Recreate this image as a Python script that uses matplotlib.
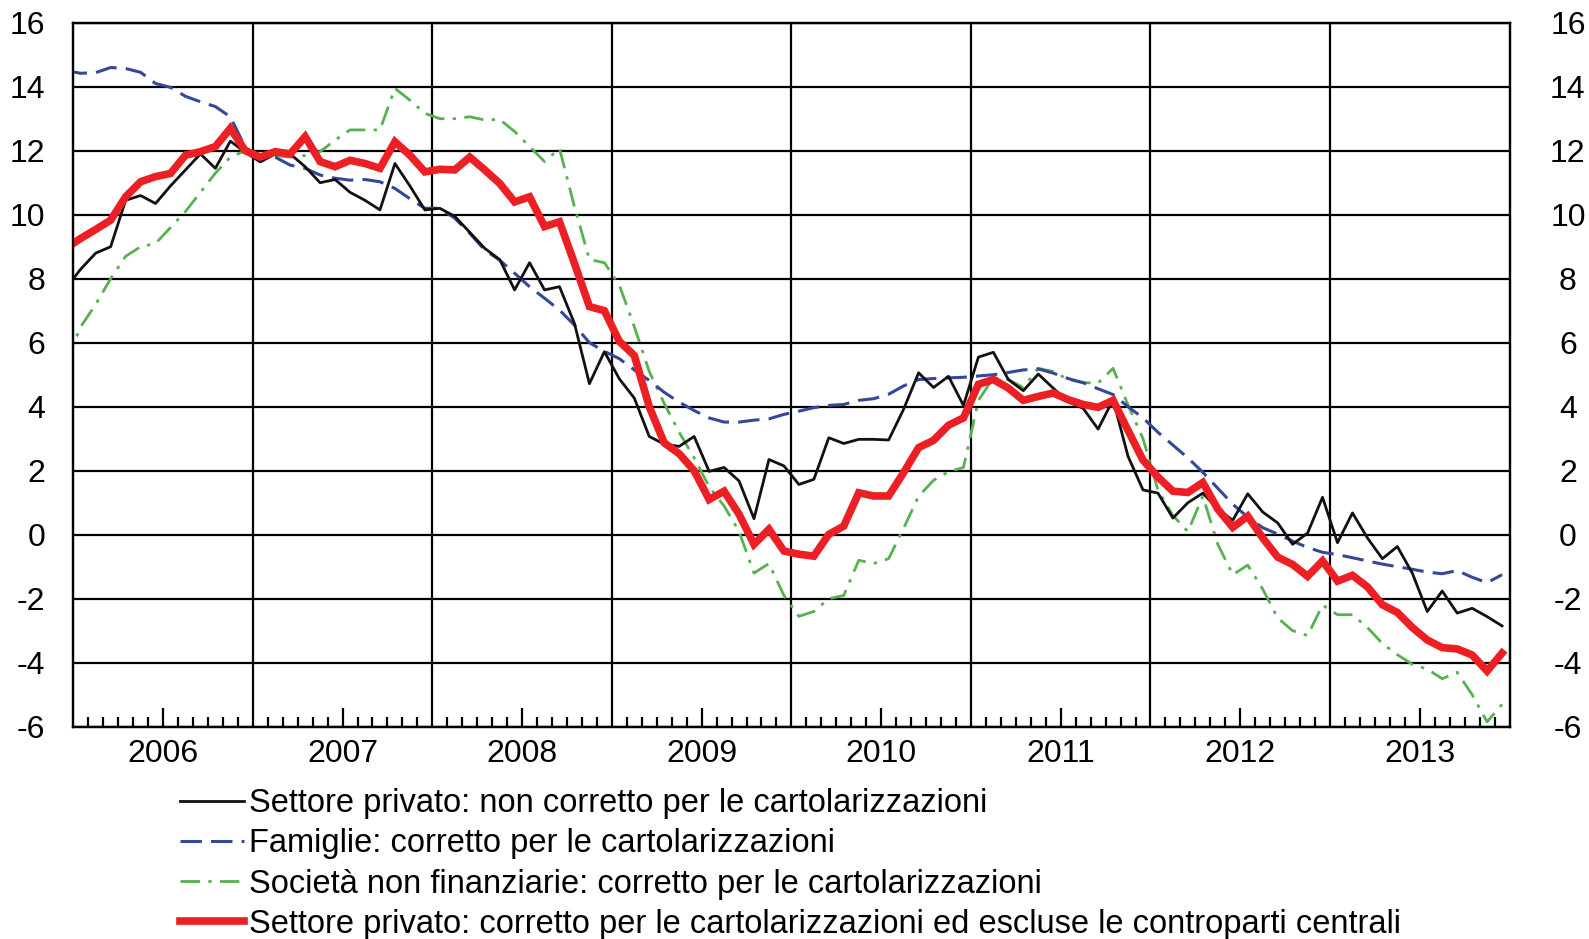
import numpy as np
import matplotlib.pyplot as plt

# dati mensili, dic 2005 - dic 2013 (variazioni % sui 12 mesi)
anni = ["2006", "2007", "2008", "2009", "2010", "2011", "2012", "2013"]

privato_non_corretto = [
    7.7,
    8.3, 8.8, 9.0, 10.45, 10.6, 10.35, 10.9, 11.4, 11.9, 11.45, 12.3, 11.95,
    11.65, 11.9, 11.9, 11.5, 11.0, 11.1, 10.7, 10.45, 10.15, 11.6, 10.9, 10.15,
    10.2, 9.95, 9.45, 8.95, 8.6, 7.65, 8.5, 7.65, 7.75, 6.6, 4.72, 5.72,
    4.87, 4.27, 3.07, 2.83, 2.76, 3.07, 1.98, 2.1, 1.68, 0.5, 2.35, 2.15,
    1.57, 1.73, 3.03, 2.85, 2.98, 2.98, 2.96, 3.92, 5.06, 4.6, 4.95, 4.04,
    5.55, 5.7, 4.85, 4.5, 5.02, 4.58, 4.15, 3.95, 3.3, 4.22, 2.45, 1.4,
    1.3, 0.52, 1.0, 1.3, 0.8, 0.45, 1.28, 0.71, 0.37, -0.3, 0.05, 1.17,
    -0.25, 0.68, -0.1, -0.75, -0.37, -1.2, -2.4, -1.76, -2.45, -2.3, -2.56, -2.85,
]

famiglie = [
    14.5,
    14.42, 14.44, 14.6, 14.57, 14.45, 14.1, 13.98, 13.7, 13.53, 13.38, 13.06, 12.1,
    11.8, 11.8, 11.55, 11.45, 11.24, 11.14, 11.08, 11.1, 11.03, 10.82, 10.5, 10.2,
    10.2, 9.89, 9.42, 8.9, 8.58, 8.17, 7.75, 7.39, 7.02, 6.55, 6.0, 5.73,
    5.5, 5.15, 4.82, 4.45, 4.14, 3.88, 3.65, 3.52, 3.52, 3.58, 3.62, 3.76,
    3.86, 3.97, 4.04, 4.07, 4.2, 4.25, 4.39, 4.65, 4.85, 4.88, 4.9, 4.92,
    4.96, 5.0, 5.07, 5.15, 5.18, 5.05, 4.88, 4.75, 4.56, 4.38, 4.0, 3.65,
    3.2, 2.8, 2.4, 1.95, 1.45, 0.95, 0.55, 0.22, 0.02, -0.2, -0.4, -0.55,
    -0.62, -0.72, -0.82, -0.92, -1.0, -1.08, -1.17, -1.22, -1.12, -1.33, -1.5, -1.25,
]

societa_non_finanziarie = [
    5.4,
    6.5, 7.2, 8.0, 8.7, 9.0, 9.1, 9.6, 10.1, 10.7, 11.3, 11.8, 12.0,
    11.86, 11.85, 11.8, 11.85, 11.97, 12.33, 12.65, 12.65, 12.65, 13.95, 13.58, 13.17,
    13.0, 13.0, 13.06, 12.96, 12.98, 12.6, 12.13, 11.66, 12.07, 10.25, 8.6, 8.5,
    7.8, 6.5, 5.1, 4.1, 3.2, 2.4, 1.5, 0.9, 0.1, -1.2, -0.9, -1.9,
    -2.55, -2.4, -2.0, -1.9, -0.8, -0.9, -0.75, 0.2, 1.2, 1.7, 1.97, 2.1,
    4.2, 4.9, 4.85, 4.6, 5.2, 5.1, 4.85, 4.75, 4.74, 5.2, 4.05, 3.0,
    1.4, 0.6, 0.1, 1.2, -0.3, -1.25, -0.95, -1.7, -2.6, -3.0, -3.15, -2.2,
    -2.5, -2.5, -2.9, -3.4, -3.75, -4.05, -4.2, -4.5, -4.3, -5.0, -5.85, -5.3,
]

privato_corretto = [
    8.95,
    9.26, 9.54, 9.83, 10.56, 11.03, 11.19, 11.29, 11.86, 11.97, 12.13, 12.7, 12.0,
    11.8, 11.97, 11.9, 12.44, 11.66, 11.5, 11.7, 11.6, 11.45, 12.28, 11.86, 11.34,
    11.42, 11.4, 11.8, 11.4, 10.98, 10.4, 10.56, 9.63, 9.78, 8.48, 7.13, 7.0,
    6.04, 5.6, 4.0, 2.87, 2.53, 2.0, 1.1, 1.36, 0.64, -0.3, 0.17, -0.51,
    -0.61, -0.67, 0.01, 0.27, 1.31, 1.21, 1.21, 1.94, 2.72, 2.95, 3.42, 3.65,
    4.7, 4.85, 4.58, 4.2, 4.32, 4.43, 4.22, 4.07, 3.98, 4.2, 3.26, 2.33,
    1.8, 1.36, 1.32, 1.63, 0.8, 0.23, 0.58, -0.1, -0.7, -0.93, -1.3, -0.82,
    -1.45, -1.27, -1.63, -2.19, -2.43, -2.9, -3.29, -3.53, -3.57, -3.76, -4.26, -3.7,
]

etichette = [
    "Settore privato: non corretto per le cartolarizzazioni",
    "Famiglie: corretto per le cartolarizzazioni",
    "Società non finanziarie: corretto per le cartolarizzazioni",
    "Settore privato: corretto per le cartolarizzazioni ed escluse le controparti centrali",
]

yticks = list(range(-6, 18, 2))


def main():
    plt.rcParams['font.family'] = ['Liberation Sans', 'DejaVu Sans']
    plt.rcParams['axes.unicode_minus'] = False
    fig = plt.figure(figsize=(15.89, 9.39), dpi=100)
    ax = fig.add_axes([0.0461, 0.2261, 0.9039, 0.7497])

    # ogni punto a meta' mese, il primo (dic 2005) fuori dal grafico
    mesi = np.arange(len(privato_corretto)) - 0.5
    n_mesi = 12 * len(anni)

    for y in yticks:
        ax.axhline(y, color='black', lw=1.6, zorder=1)
    for k in range(1, len(anni)):
        ax.axvline(12 * k, color='black', lw=1.6, zorder=1)

    ax.plot(mesi, societa_non_finanziarie, color='#55b24f', lw=2.0,
            linestyle=(0, (7, 3, 1.2, 3)), label=etichette[2], zorder=3)
    ax.plot(mesi, famiglie, color='#34479b', lw=2.2,
            linestyle=(0, (7, 3)), label=etichette[1], zorder=4)
    ax.plot(mesi, privato_non_corretto, color='#111111', lw=2.0,
            label=etichette[0], zorder=5)
    ax.plot(mesi, privato_corretto, color='#ec1f24', lw=5.5,
            solid_joinstyle='miter', label=etichette[3], zorder=6)

    ax.set_xlim(0, n_mesi)
    ax.set_ylim(-6, 16)

    # tacche mensili, piu' lunghe a meta' anno
    bordi = np.arange(1, n_mesi)
    bordi = bordi[bordi % 12 != 0]
    lunghe = bordi[bordi % 12 == 6]
    corte = bordi[bordi % 12 != 6]
    trans = ax.get_xaxis_transform()
    ax.vlines(corte, 0, 0.014, color='black', lw=1.6, transform=trans)
    ax.vlines(lunghe, 0, 0.026, color='black', lw=1.6, transform=trans)

    ax.set_xticks([12 * k + 6 for k in range(len(anni))])
    ax.set_xticklabels(anni)
    ax.tick_params(axis='x', length=0, pad=9, labelsize=23)
    ax.set_yticks(yticks)
    ax.tick_params(axis='y', length=0, pad=20, labelsize=23)

    dx = ax.twinx()
    dx.set_ylim(-6, 16)
    dx.set_yticks(yticks)
    dx.tick_params(axis='y', length=0, pad=42, labelsize=23)
    for t in dx.get_yticklabels():
        t.set_horizontalalignment('center')

    for a in (ax, dx):
        for s in a.spines.values():
            s.set_linewidth(1.6)

    h, l = ax.get_legend_handles_labels()
    ordine = [2, 1, 0, 3]
    ax.legend([h[i] for i in ordine], [l[i] for i in ordine],
              loc='upper left', bbox_to_anchor=(0.065, -0.069),
              frameon=False, fontsize=23.5, handlelength=1.97,
              handletextpad=0.15, labelspacing=0.28, borderaxespad=0)

    fig.savefig('out.png', dpi=100)


if __name__ == "__main__":
    main()
